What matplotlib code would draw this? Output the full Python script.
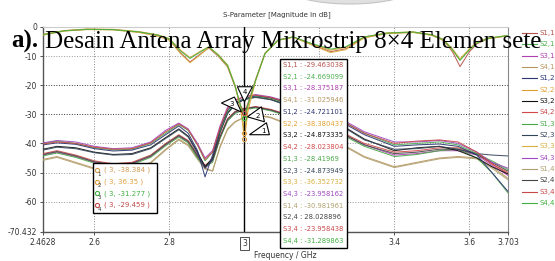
import matplotlib
matplotlib.use('Agg')
import matplotlib.pyplot as plt
from matplotlib.patches import Rectangle, Polygon, Ellipse
from matplotlib.lines import Line2D

W, H = 555, 261

# reflection (Sii) curves
f_ref = [2.4628, 2.52, 2.58, 2.65, 2.72, 2.77, 2.80, 2.83, 2.855, 2.88, 2.905, 2.93, 2.955, 2.975,
         2.99, 3.0, 3.01, 3.03, 3.055, 3.09, 3.13, 3.18, 3.23, 3.27, 3.32, 3.38, 3.45, 3.50, 3.53,
         3.555, 3.575, 3.60, 3.62, 3.65, 3.703]
s11 = [-2.7, -1.3, -0.8, -0.9, -1.8, -3.0, -4.4, -8.9, -12.0, -9.5, -7.2, -10.0, -13.7, -20.5, -27.0,
       -29.46, -26.0, -18.0, -9.0, -4.4, -3.4, -6.0, -8.5, -7.5, -3.6, -2.2, -1.8, -2.8, -4.5, -8.5,
       -13.6, -8.5, -5.8, -4.0, -3.0]
s22 = [-2.5, -1.2, -0.7, -0.8, -1.6, -2.7, -4.0, -8.0, -10.5, -8.5, -6.8, -9.5, -13.0, -20.0, -28.0,
       -38.38, -28.5, -18.5, -9.2, -4.6, -3.5, -5.8, -8.0, -7.0, -3.4, -2.0, -1.7, -2.6, -4.2, -7.5,
       -11.0, -7.5, -5.2, -3.8, -2.9]
s33 = [-2.8, -1.4, -0.9, -1.0, -1.9, -3.2, -4.6, -9.2, -12.3, -9.8, -7.0, -9.8, -13.5, -20.3, -27.5,
       -36.35, -27.0, -18.2, -9.0, -4.5, -3.5, -6.2, -8.8, -7.8, -3.7, -2.3, -1.9, -2.9, -4.6, -8.0,
       -11.2, -7.8, -5.5, -4.0, -3.1]
s44 = [-2.6, -1.3, -0.8, -0.9, -1.7, -2.8, -4.1, -8.3, -10.8, -8.8, -6.8, -9.6, -13.2, -20.2, -27.2,
       -31.29, -26.5, -18.2, -9.1, -4.5, -3.4, -5.7, -7.6, -6.8, -3.4, -2.1, -1.7, -2.7, -4.3, -7.8,
       -11.5, -7.8, -5.5, -3.9, -2.9]

# coupling (Sij) curves
f_cpl = [2.4628, 2.50, 2.55, 2.60, 2.65, 2.70, 2.75, 2.79, 2.825, 2.85, 2.875, 2.895, 2.915, 2.935,
         2.955, 2.975, 3.00, 3.03, 3.07, 3.12, 3.18, 3.25, 3.32, 3.40, 3.46, 3.52, 3.57, 3.62, 3.66, 3.703]
s21 = [-40.0, -39.2, -40.0, -41.5, -42.2, -42.0, -40.0, -36.5, -33.5, -35.5, -40.5, -46.0, -43.0, -35.5,
       -29.0, -26.0, -24.67, -23.8, -24.5, -26.5, -29.0, -31.5, -36.5, -40.5, -40.0, -39.5, -40.5, -43.5,
       -46.0, -49.0]
s12 = [-40.5, -39.8, -40.3, -41.8, -42.6, -42.3, -40.5, -37.0, -34.0, -36.5, -42.5, -51.5, -44.0, -35.0,
       -28.5, -25.8, -24.72, -23.6, -24.3, -26.2, -29.2, -32.0, -37.0, -41.0, -40.5, -40.2, -41.0, -44.0,
       -50.0, -56.5]
s32 = [-42.0, -41.0, -41.5, -43.0, -43.8, -43.5, -41.5, -38.0, -35.0, -37.5, -43.0, -48.0, -45.0, -36.0,
       -29.5, -26.5, -24.87, -24.0, -24.8, -27.0, -29.5, -33.0, -38.5, -42.5, -41.5, -41.0, -42.5, -45.0,
       -48.0, -50.5]
s23 = [-42.3, -41.3, -41.8, -43.2, -44.0, -43.8, -41.8, -38.3, -35.3, -37.8, -43.5, -48.5, -45.5, -36.3,
       -29.8, -26.7, -24.87, -24.2, -25.0, -27.2, -29.8, -33.3, -38.8, -42.0, -41.8, -41.0, -42.0, -43.5,
       -44.0, -44.3]
s43 = [-39.8, -39.0, -39.5, -41.0, -41.8, -41.5, -39.5, -35.5, -33.0, -35.0, -40.0, -45.0, -42.5, -34.0,
       -27.5, -25.0, -23.96, -23.2, -24.0, -25.8, -28.5, -31.0, -36.0, -39.5, -39.5, -39.0, -40.0, -43.0,
       -46.5, -48.5]
s34 = [-40.2, -39.5, -40.0, -41.3, -42.0, -41.8, -39.8, -36.0, -33.3, -35.3, -40.5, -45.5, -43.0, -34.5,
       -28.0, -25.3, -23.96, -23.4, -24.2, -26.0, -28.8, -31.5, -36.5, -40.0, -39.2, -38.8, -39.5, -43.0,
       -47.0, -50.0]
s31 = [-44.0, -43.0, -44.5, -46.5, -47.5, -47.0, -44.5, -40.5, -37.5, -39.5, -44.5, -48.5, -46.0, -38.0,
       -32.0, -29.5, -28.38, -27.5, -28.5, -30.5, -33.0, -36.0, -40.5, -44.0, -43.5, -42.5, -42.5, -44.0,
       -47.5, -51.0]
s13 = [-44.3, -43.3, -44.8, -46.8, -47.8, -47.3, -44.8, -40.8, -37.8, -39.8, -45.0, -48.0, -46.5, -38.3,
       -32.3, -29.7, -28.42, -27.8, -28.8, -30.8, -33.3, -36.3, -41.0, -44.5, -43.8, -42.5, -42.0, -45.0,
       -50.0, -57.0]
s42 = [-43.5, -42.5, -44.0, -46.0, -47.0, -46.5, -44.0, -40.0, -37.0, -39.0, -44.0, -47.5, -45.5, -37.5,
       -31.5, -29.0, -28.02, -27.3, -28.3, -30.2, -32.7, -35.5, -40.0, -43.0, -42.5, -41.5, -41.5, -43.5,
       -47.0, -50.5]
s24 = [-43.8, -42.8, -44.3, -46.3, -47.3, -46.8, -44.3, -40.3, -37.3, -39.3, -44.3, -47.8, -45.8, -37.8,
       -31.8, -29.2, -28.03, -27.5, -28.5, -30.5, -33.0, -35.8, -40.5, -43.5, -43.0, -42.0, -42.0, -43.8,
       -46.5, -49.5]
s41 = [-45.5, -44.5, -46.5, -48.5, -49.5, -49.0, -46.5, -42.0, -38.5, -40.5, -45.0, -48.5, -49.5, -41.0,
       -35.0, -32.5, -31.03, -30.0, -31.0, -33.5, -36.5, -39.5, -44.5, -48.0, -46.5, -45.0, -44.5, -45.0,
       -48.0, -52.0]
s14 = [-45.8, -44.8, -46.8, -48.8, -49.8, -49.3, -46.8, -42.3, -38.8, -40.8, -45.5, -48.8, -49.5, -41.3,
       -35.3, -32.7, -30.98, -30.2, -31.2, -33.7, -36.7, -39.8, -44.8, -48.3, -46.8, -45.3, -44.8, -45.3,
       -48.5, -52.5]

names = ['S1,1', 'S2,1', 'S3,1', 'S4,1', 'S1,2', 'S2,2', 'S3,2', 'S4,2',
         'S1,3', 'S2,3', 'S3,3', 'S4,3', 'S1,4', 'S2,4', 'S3,4', 'S4,4']
colors = ['#b5504a', '#4caf50', '#b040b0', '#b89660', '#2a3470', '#e0a030', '#111111', '#d04848',
          '#48a848', '#344458', '#d8b040', '#a048c0', '#b0a070', '#444444', '#c84848', '#40b040']
# marker readout at 3 GHz
readout = ['-29.463038', '-24.669099', '-28.375187', '-31.025946', '-24.721101', '-38.380437',
           '-24.873335', '-28.023804', '-28.41969', '-24.873949', '-36.352732', '-23.958162',
           '-30.981961', '28.028896', '-23.958438', '-31.289863']

marker_f = 3.0
marker_vals = [-38.384, -36.35, -31.277, -29.459]
marker_txt = ['-38.384', '36.35', '-31.277', '-29.459']
marker_cols = ['#d09a50', '#e0a040', '#40b040', '#c04848']

xticks = [2.4628, 2.6, 2.8, 3.4, 3.6, 3.703]
xgrid = [2.6, 2.8, 3.2, 3.4, 3.6]
yticks = [0, -10, -20, -30, -40, -50, -60, -70.432]

series = {'S1,1': (f_ref, s11), 'S2,2': (f_ref, s22), 'S3,3': (f_ref, s33), 'S4,4': (f_ref, s44),
          'S2,1': (f_cpl, s21), 'S1,2': (f_cpl, s12), 'S3,2': (f_cpl, s32), 'S2,3': (f_cpl, s23),
          'S4,3': (f_cpl, s43), 'S3,4': (f_cpl, s34), 'S3,1': (f_cpl, s31), 'S1,3': (f_cpl, s13),
          'S4,2': (f_cpl, s42), 'S2,4': (f_cpl, s24), 'S4,1': (f_cpl, s41), 'S1,4': (f_cpl, s14)}


def fp(x, y):
    # pixel position (from top-left) -> figure fraction
    return x / W, 1 - y / H


fig = plt.figure(figsize=(5.55, 2.61), dpi=100)
ax = fig.add_axes([43 / W, 1 - 232 / H, 465 / W, 205 / H])

order = ['S4,1', 'S1,4', 'S3,1', 'S1,3', 'S4,2', 'S2,4', 'S3,2', 'S2,3', 'S2,1', 'S1,2', 'S4,3', 'S3,4',
         'S1,1', 'S2,2', 'S3,3', 'S4,4']
for n in order:
    fx, fy = series[n]
    ax.plot(fx, fy, color=colors[names.index(n)], lw=0.75, alpha=0.9, zorder=3)

for g in xgrid:
    ax.axvline(g, color='#888888', lw=0.7, ls=':', zorder=1)
for yv in yticks[1:-1]:
    c = '#333333' if yv in (-20, -30) else '#999999'
    ax.axhline(yv, color=c, lw=0.7, ls=':', zorder=1)
ax.axhline(yticks[-1], color='#222222', lw=0.8, ls=':', zorder=1)

ax.set_xlim(2.4628, 3.703)
ax.set_ylim(-70.432, 0)
ax.set_xticks(xticks)
ax.set_xticklabels(['2.4628', '2.6', '2.8', '3.4', '3.6', '3.703'])
ax.set_yticks(yticks)
ax.set_yticklabels(['0', '-10', '-20', '-30', '-40', '-50', '-60', '-70.432'])
ax.tick_params(labelsize=5.5, colors='#333333', length=2, width=0.6, pad=2)
for s in ['left', 'bottom']:
    ax.spines[s].set_color('#555555')
    ax.spines[s].set_linewidth(1.0)
ax.spines['top'].set_color('#cccccc')
ax.spines['right'].set_color('#888888')
ax.spines['right'].set_linewidth(0.8)

# marker line at 3 GHz
ax.axvline(marker_f, color='black', lw=1.0, zorder=4)
for v, c in zip(marker_vals, marker_cols):
    ax.plot([marker_f], [v], 'o', ms=3, mfc='none', mec=c, mew=0.8, zorder=6)
ax.text(marker_f, -0.055, '3', transform=ax.get_xaxis_transform(), fontsize=5.5, ha='center', va='center',
        color='#333333', bbox=dict(boxstyle='square,pad=0.25', fc='white', ec='#333333', lw=0.6))

# marker flags (triangles), offsets in pixels from the marker point
flags = [
    ([(5, 4), (22, 16), (25, 4)], (19, 8), '1'),
    ([(3, 16), (17, 26), (20, 11)], (13, 17), '2'),
    ([(-23, 15), (-10, 21), (-3, 6)], (-13, 14), '3'),
    ([(-7, 26), (8, 26), (0, 11)], (0, 21), '4'),
]
fig.canvas.draw()
for (tri, lab, txt), v in zip(flags, marker_vals):
    px, py = ax.transData.transform((marker_f, v))
    pts = [(px + dx, py + dy) for dx, dy in tri]
    fig.add_artist(Polygon(pts, closed=True, transform=None, fc='white', ec='black', lw=0.8, zorder=7))
    fig.text(px + lab[0], py + lab[1], txt, transform=None, fontsize=5, ha='center', va='center', zorder=8)

# marker readout box
fig.add_artist(Rectangle(fp(280, 248), 67 / W, 189 / H, transform=fig.transFigure, fc='white',
                         ec='black', lw=1.0, zorder=5))
for i, (n, r, c) in enumerate(zip(names, readout, colors)):
    x, y = fp(283, 65 + i * 11.73)
    fig.text(x, y, n + ' : ' + r, fontsize=4.9, color=c, va='center', ha='left', zorder=6)

# small marker table
fig.add_artist(Rectangle(fp(93, 213), 64 / W, 50 / H, transform=fig.transFigure, fc='white',
                         ec='black', lw=1.0, zorder=5))
for i, (t, c) in enumerate(zip(marker_txt, marker_cols)):
    yy = 170 + i * 11.7
    x, y = fp(97, yy)
    fig.add_artist(Line2D([x], [y], marker='o', ms=3, mfc='none', mec=c, mew=0.8, zorder=6))
    x, y = fp(99, yy + 4)
    fig.text(x, y, str(i + 1), fontsize=4, color='#333333', va='center', ha='center', zorder=6)
    x, y = fp(104, yy)
    fig.text(x, y, '( 3, ' + t + ' )', fontsize=5, color=c, va='center', ha='left', zorder=6)

# legend at right edge
for i, (n, c) in enumerate(zip(names, colors)):
    yy = 33 + i * 11.33
    x0, y = fp(522, yy)
    x1, _ = fp(537, yy)
    fig.add_artist(Line2D([x0, x1], [y, y], color=c, lw=0.8))
    x, _ = fp(540, yy)
    fig.text(x, y, n, fontsize=5, color=c, va='center', ha='left')

# titles
x, y = fp(277, 15)
fig.text(x, y, 'S-Parameter [Magnitude in dB]', fontsize=5, color='#333333', ha='center', va='center')
x, y = fp(285, 255)
fig.text(x, y, 'Frequency / GHz', fontsize=5.5, color='#333333', ha='center', va='center')

# cut-off grey shape at the top
fig.add_artist(Ellipse(fp(350, -12), 125 / W, 32 / H, transform=fig.transFigure, fc='#e0e0e0',
                       ec='#c4c4c4', lw=0.8, zorder=1))

# overlapping caption text
x, y = fp(38, 48)
fig.text(x, y, 'a).', fontsize=18, fontweight='bold', family='Liberation Serif', ha='right',
         va='baseline', zorder=10)
x, y = fp(45, 48)
fig.text(x, y, 'Desain Antena Array Mikrostrip 8\u00d74 Elemen sete', fontsize=18,
         family='Liberation Serif', ha='left', va='baseline', zorder=10)

fig.savefig('out.png', dpi=100)
